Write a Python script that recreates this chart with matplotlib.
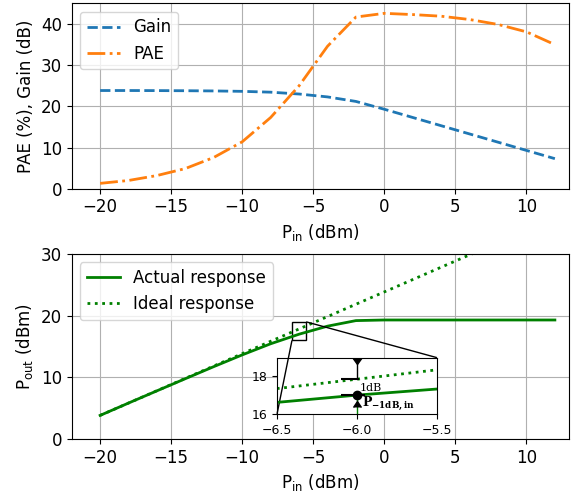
import numpy as np
import matplotlib
matplotlib.use("Agg")
import matplotlib.pyplot as plt
from mpl_toolkits.axes_grid1.inset_locator import mark_inset

plt.rcParams['font.size'] = 12
plt.rcParams['mathtext.fontset'] = 'dejavusans'

# input power sweep (dBm)
pin = np.array([-20, -18, -16, -14, -12, -10, -8, -6, -4, -2,
                0, 2, 4, 6, 8, 10, 12])
# measured gain (dB) and PAE (%)
gain = np.array([23.85, 23.85, 23.83, 23.8, 23.75, 23.65, 23.45, 23.0, 22.3, 21.2,
                 19.3, 17.3, 15.3, 13.3, 11.3, 9.3, 7.3])
pae = np.array([1.3, 2.0, 3.2, 4.9, 7.6, 11.4, 17.3, 25.0, 34.6, 41.7,
                42.6, 42.3, 41.9, 41.1, 39.9, 38.1, 35.0])

p1db_in = -6.0

pout = pin + gain
pout_ideal = pin + gain[0]

fig = plt.figure(figsize=(5.76, 4.94), dpi=100)
ax1 = fig.add_axes([0.1245, 0.618, 0.8635, 0.375])
ax2 = fig.add_axes([0.1245, 0.111, 0.8635, 0.375])

# top: gain and PAE
ax1.plot(pin, gain, '--', color='C0', lw=2, label='Gain')
ax1.plot(pin, pae, '-.', color='C1', lw=2, label='PAE')
ax1.set_xlim(-22, 13)
ax1.set_ylim(0, 45)
ax1.set_xticks([-20, -15, -10, -5, 0, 5, 10])
ax1.set_yticks([0, 10, 20, 30, 40])
ax1.set_xlabel(r'P$_{\rm in}$ (dBm)')
ax1.set_ylabel('PAE (%), Gain (dB)')
ax1.grid(True)
ax1.legend(loc='upper left')

# bottom: output power
ax2.plot(pin, pout, '-', color='g', lw=2, label='Actual response')
ax2.plot(pin, pout_ideal, ':', color='g', lw=2, label='Ideal response')
ax2.set_xlim(-22, 13)
ax2.set_ylim(0, 30)
ax2.set_xticks([-20, -15, -10, -5, 0, 5, 10])
ax2.set_yticks([0, 10, 20, 30])
ax2.set_xlabel(r'P$_{\rm in}$ (dBm)')
ax2.set_ylabel(r'P$_{\rm out}$ (dBm)')
ax2.grid(True)
ax2.legend(loc='upper left')

# zoom on the 1 dB compression point
axins = ax2.inset_axes([-7.55, 4.1, 11.25, 9.1], transform=ax2.transData)
axins.plot(pin, pout, '-', color='g', lw=2)
axins.plot(pin, pout_ideal, ':', color='g', lw=2)
axins.set_xlim(-6.5, -5.5)
axins.set_ylim(16, 19)
axins.set_xticks([-6.5, -6.0, -5.5])
axins.set_yticks([16, 18])
axins.tick_params(labelsize=9)
mark_inset(ax2, axins, loc1=3, loc2=1, fc='none', ec='k', lw=1)

y_act = np.interp(p1db_in, pin, pout)
y_id = np.interp(p1db_in, pin, pout_ideal)
axins.hlines(y_id, p1db_in - 0.1, p1db_in + 0.01, color='k', lw=1.5)
axins.hlines(y_act, p1db_in - 0.1, p1db_in + 0.05, color='k', lw=1.5)
axins.vlines(p1db_in, y_id, 18.75, color='k', lw=1)
axins.plot([p1db_in], [18.65], marker=7, color='k', ms=7)
axins.vlines(p1db_in, 16, y_act, color='g', lw=1)
axins.plot([p1db_in], [y_act - 0.3], marker=6, color='k', ms=6)
axins.plot([p1db_in], [y_act], 'o', color='k', ms=6)
axins.text(p1db_in + 0.015, (y_id + y_act) / 2 - 0.05, '1dB', fontsize=8,
           family='DejaVu Serif', va='center')
axins.text(p1db_in + 0.03, y_act - 0.5, r'$\mathbf{P_{-1dB,in}}$', fontsize=9,
           math_fontfamily='dejavuserif', va='center')

fig.savefig('out.png', dpi=100)
